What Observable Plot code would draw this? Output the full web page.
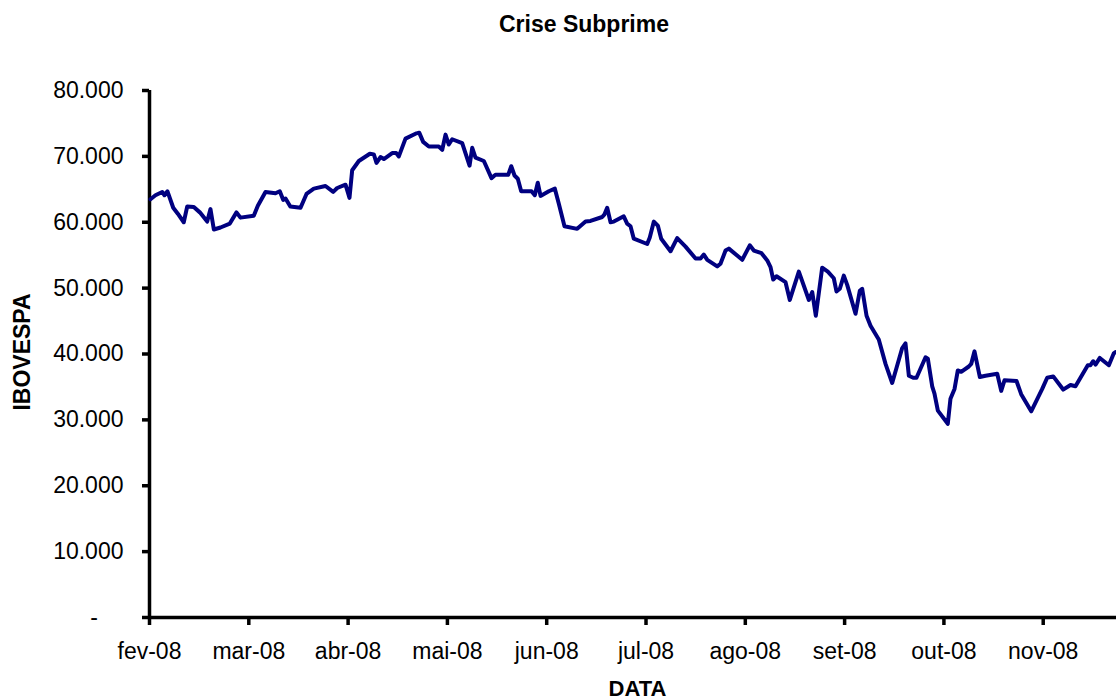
<!DOCTYPE html>
<html>
<head>
<meta charset="utf-8">
<script src="https://cdn.jsdelivr.net/npm/d3@7"></script>
<script src="https://cdn.jsdelivr.net/npm/@observablehq/plot@0.6"></script>
<style>
  html, body { margin: 0; padding: 0; background: white; }
  #chart { width: 1116px; height: 699px; }
</style>
</head>
<body>
<div id="chart"></div>
<script>
// Month tick labels (category-style axis, equally spaced)
const monthLabels = ["fev-08","mar-08","abr-08","mai-08","jun-08","jul-08","ago-08","set-08","out-08","nov-08"];
const monthTicks = [0,1,2,3,4,5,6,7,8,9];

// Time position in months from the first tick (fev-08 = 0)
const t = [
  0.010,0.060,0.128,0.151,0.181,0.239,0.285,0.345,0.380,0.446,
  0.507,0.581,0.614,0.648,0.715,0.809,0.876,0.916,1.050,1.091,
  1.168,1.269,1.312,1.346,1.370,1.418,1.521,1.581,1.655,1.772,
  1.850,1.890,1.974,2.014,2.041,2.108,2.219,2.259,2.286,2.326,
  2.360,2.444,2.484,2.511,2.578,2.689,2.716,2.756,2.813,2.913,
  2.948,2.981,3.014,3.048,3.149,3.223,3.250,3.283,3.367,3.444,
  3.484,3.612,3.643,3.676,3.709,3.743,3.847,3.880,3.910,3.938,
  4.021,4.082,4.122,4.179,4.307,4.391,4.441,4.559,4.582,4.609,
  4.643,4.676,4.776,4.810,4.844,4.877,5.012,5.038,5.079,5.119,
  5.153,5.247,5.314,5.398,5.499,5.549,5.582,5.617,5.717,5.750,
  5.801,5.834,5.969,6.045,6.086,6.163,6.221,6.254,6.281,6.314,
  6.405,6.448,6.539,6.640,6.674,6.710,6.774,6.831,6.891,6.918,
  6.952,6.992,7.026,7.110,7.153,7.177,7.221,7.261,7.344,7.412,
  7.479,7.580,7.613,7.647,7.691,7.724,7.815,7.838,7.882,7.905,
  7.939,8.039,8.066,8.107,8.140,8.174,8.251,8.275,8.308,8.362,
  8.419,8.537,8.577,8.610,8.731,8.778,8.879,8.990,9.040,9.101,
  9.201,9.275,9.325,9.449,9.476,9.503,9.527,9.570,9.661,9.711,
  9.728
];

// IBOVESPA closing values (points)
const ibovespa = [
  63500,64100,64600,64100,64700,62200,61300,60000,62400,62300,
  61500,60100,62000,58900,59200,59800,61500,60700,61000,62500,
  64600,64400,64700,63400,63600,62400,62200,64300,65100,65500,
  64600,65200,65700,63700,67900,69300,70400,70300,69000,69900,
  69600,70500,70500,70000,72700,73500,73600,72200,71500,71500,
  71000,73300,71800,72600,72000,68600,71300,69800,69300,66700,
  67200,67200,68500,67100,66600,64700,64700,64100,66000,64000,
  64700,65100,62800,59400,59000,60100,60200,60800,61200,62200,
  60000,60100,60900,59800,59400,57500,56700,57700,60100,59500,
  57500,55600,57600,56300,54500,54500,55100,54300,53300,53700,
  55700,56000,54300,56500,55700,55300,54200,53200,51300,51800,
  50900,48200,52500,48200,49400,45800,53100,52500,51500,49500,
  49900,51900,50500,46100,49600,49900,45800,44300,42200,38500,
  35600,40900,41600,36700,36400,36400,39500,39300,35100,34000,
  31400,29400,33200,34700,37500,37300,38100,38500,40400,36500,
  36700,37000,34400,36000,35900,33900,31300,34700,36400,36600,
  34600,35300,35100,38300,38300,38900,38400,39400,38300,40100,
  40300
];

// Y-axis ticks
const yTicks = [0,10000,20000,30000,40000,50000,60000,70000,80000];

const data = t.map((d, i) => ({t: d, v: ibovespa[i]}));
const ptFmt = d => d === 0 ? "-\u00A0\u00A0\u00A0\u00A0" : d3.format(",")(d).replace(/,/g, ".");

const chart = Plot.plot({
  width: 1116,
  height: 699,
  marginLeft: 149,
  marginRight: 0,
  marginTop: 90,
  marginBottom: 82,
  style: {
    fontFamily: "Arial, 'Liberation Sans', sans-serif",
    fontSize: "23px",
    color: "black",
    background: "white",
    overflow: "visible"
  },
  x: {domain: [0, 9.738]},
  y: {domain: [0, 80000]},
  marks: [
    Plot.axisY({ticks: yTicks, tickFormat: ptFmt, tickSize: 7, tickPadding: 19, strokeWidth: 3.5, label: null}),
    Plot.axisX({ticks: monthTicks, tickFormat: i => monthLabels[i], tickSize: 8, tickPadding: 17, strokeWidth: 3.5, label: null}),
    Plot.ruleX([0], {strokeWidth: 3.5, stroke: "black"}),
    Plot.ruleY([0], {strokeWidth: 3.5, stroke: "black"}),
    Plot.line(data, {x: "t", y: "v", stroke: "#000080", strokeWidth: 4, strokeLinejoin: "round"})
  ]
});

document.getElementById("chart").appendChild(chart);

const svg = d3.select(chart);
const font = "Arial, 'Liberation Sans', sans-serif";
svg.append("text")
  .attr("x", 584).attr("y", 32)
  .attr("text-anchor", "middle")
  .attr("font-family", font).attr("font-size", 23).attr("font-weight", "bold")
  .attr("fill", "black")
  .text("Crise Subprime");
svg.append("text")
  .attr("x", 637.5).attr("y", 696)
  .attr("text-anchor", "middle")
  .attr("font-family", font).attr("font-size", 22).attr("font-weight", "bold")
  .attr("fill", "black")
  .text("DATA");
svg.append("text")
  .attr("transform", "translate(30,352) rotate(-90)")
  .attr("text-anchor", "middle")
  .attr("font-family", font).attr("font-size", 23).attr("font-weight", "bold")
  .attr("fill", "black")
  .text("IBOVESPA");
</script>
</body>
</html>
